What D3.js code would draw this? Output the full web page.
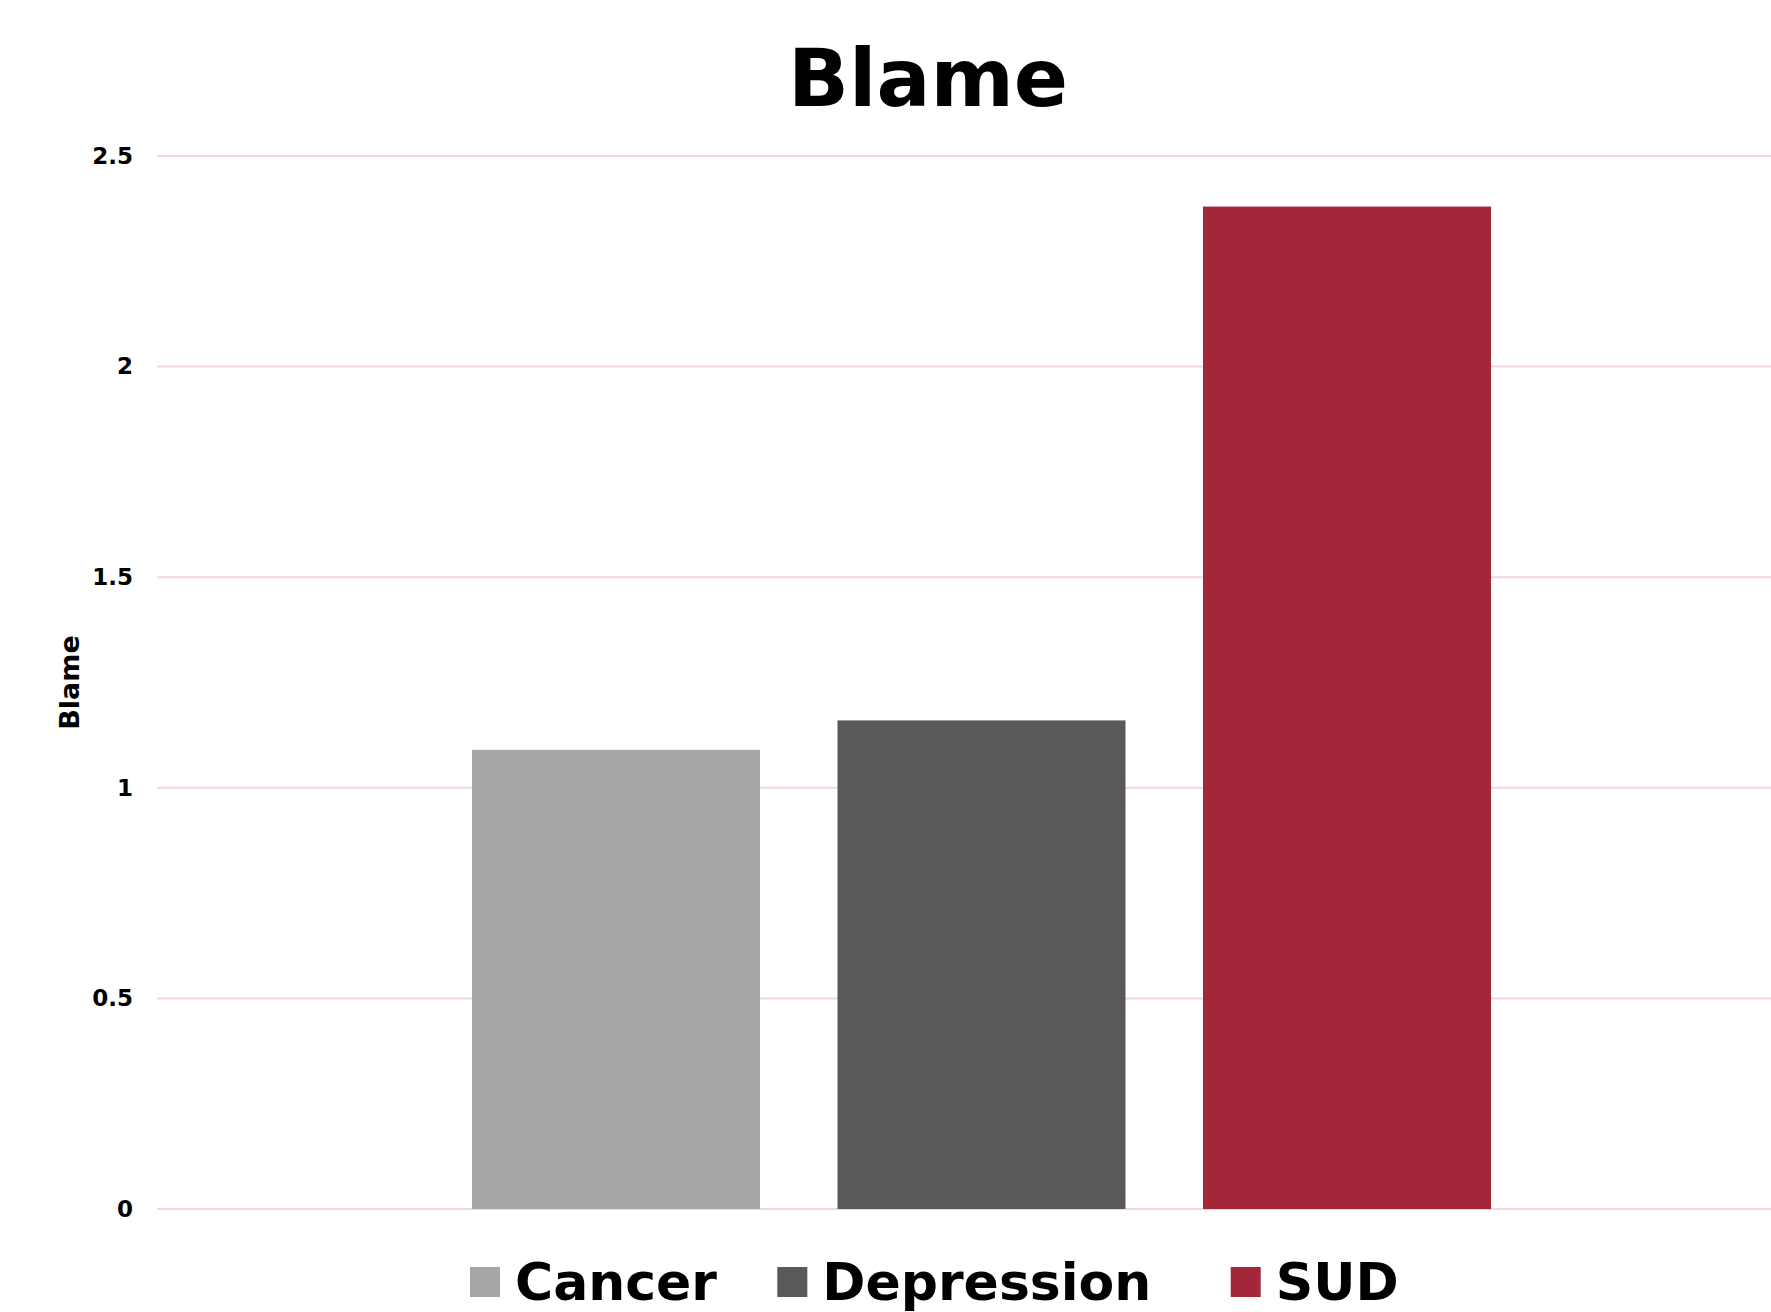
<!DOCTYPE html>
<html>
<head>
<meta charset="utf-8">
<script src="https://cdn.jsdelivr.net/npm/d3@7"></script>
<style>
  body { margin: 0; background: #fff; }
  svg { display: block; }
</style>
</head>
<body>
<div id="chart"></div>
<script>
const categories = ["Cancer", "Depression", "SUD"];
const values = [1.09, 1.16, 2.38];
const colors = ["#a6a6a6", "#595959", "#a32639"];
const yTicks = [0, 0.5, 1, 1.5, 2, 2.5];

const W = 1771, H = 1312;
const plot = { left: 157, right: 1771, top: 156, bottom: 1209 };

const svg = d3.select("#chart")
    .append("svg")
    .attr("width", W)
    .attr("height", H)
    .style("font-family", "'DejaVu Sans', Verdana, sans-serif");

const y = d3.scaleLinear()
    .domain([0, 2.5])
    .range([plot.bottom, plot.top]);

// bars sit in their own band range (the plot area runs off to the right)
const x = d3.scaleBand()
    .domain(categories)
    .range([394.5, 1568.5])
    .padding(0.212);

// gridlines
svg.append("g")
    .selectAll("line")
    .data(yTicks)
    .enter()
    .append("line")
    .attr("x1", plot.left)
    .attr("x2", plot.right)
    .attr("y1", d => y(d))
    .attr("y2", d => y(d))
    .attr("stroke", "#f5d6df")
    .attr("stroke-width", 2);

// y axis labels
const yAxis = svg.append("g")
    .attr("transform", `translate(${plot.left},0)`)
    .call(d3.axisLeft(y).tickValues(yTicks).tickSize(0).tickPadding(24).tickFormat(d3.format("")));
yAxis.select(".domain").remove();
yAxis.selectAll("text")
    .style("font-family", "'DejaVu Sans', Verdana, sans-serif")
    .style("font-size", "23px")
    .style("font-weight", "bold")
    .attr("fill", "#000");

svg.append("g")
    .selectAll("rect")
    .data(categories)
    .enter()
    .append("rect")
    .attr("x", d => x(d))
    .attr("width", x.bandwidth())
    .attr("y", (d, i) => y(values[i]))
    .attr("height", (d, i) => y(0) - y(values[i]))
    .attr("fill", (d, i) => colors[i]);

// title
svg.append("text")
    .attr("x", 928)
    .attr("y", 106)
    .attr("text-anchor", "middle")
    .style("font-size", "80px")
    .style("font-weight", "bold")
    .text("Blame");

// y axis title
svg.append("text")
    .attr("transform", `translate(79,${(plot.top + plot.bottom) / 2}) rotate(-90)`)
    .attr("text-anchor", "middle")
    .style("font-size", "27px")
    .style("font-weight", "bold")
    .text("Blame");

// legend
const legend = svg.append("g");
let lx = 470;
categories.forEach((c, i) => {
    legend.append("rect")
        .attr("x", lx)
        .attr("y", 1267)
        .attr("width", 30)
        .attr("height", 30)
        .attr("fill", colors[i]);
    const t = legend.append("text")
        .attr("x", lx + 45)
        .attr("y", 1300)
        .style("font-size", "52px")
        .style("font-weight", "bold")
        .text(c);
    const w = t.node().getComputedTextLength();
    lx += 45 + w + 30 + w * 0.15;
});
</script>
</body>
</html>
